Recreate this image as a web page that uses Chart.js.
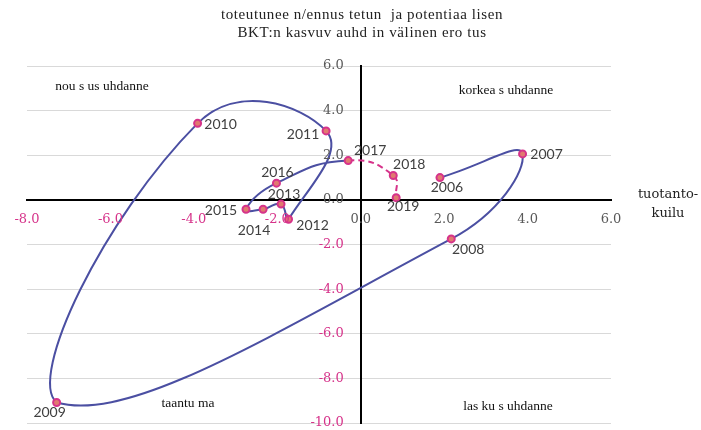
<!DOCTYPE html>
<html>
<head>
<meta charset="utf-8">
<script src="https://cdn.jsdelivr.net/npm/chart.js@4"></script>
<style>
  html, body { margin: 0; padding: 0; background: #fff; }
  #wrap { width: 701px; height: 430px; }
</style>
</head>
<body>
<div id="wrap"><canvas id="gapChart" width="701" height="430"></canvas></div>
<script>
// data
let years = ["2006", "2007", "2008", "2009", "2010", "2011", "2012", "2013", "2014", "2015", "2016", "2017", "2018", "2019"];
let outputGap = [1.90, 3.88, 2.17, -7.29, -3.91, -0.83, -1.73, -1.91, -2.34, -2.75, -2.02, -0.30, 0.78, 0.85];
let growthDiff = [1.00, 2.06, -1.75, -9.08, 3.43, 3.09, -0.87, -0.19, -0.42, -0.42, 0.75, 1.76, 1.09, 0.10];
let forecastFrom = 11; // 2017 -> dashed

let titleLines = ["toteutunee n/ennus tetun  ja potentiaa lisen", "BKT:n kasvuv auhd in välinen ero tus"];
let xTitle = ["tuotanto-", "kuilu"];
let quadrants = ["nou s us uhdanne", "korkea s uhdanne", "taantu ma", "las ku s uhdanne"];

// label offsets for the year texts (px from the point)
let labelOffset = [[7, 10], [24, 1], [17, 11], [-7, 10], [23, 1], [-23, 4], [24, 6], [3, -10], [-9, 21], [-25, 1], [1, -11], [22, -10], [16, -11], [7, 9]];

let blue = "#4b4fa2";
let pink = "#d6338a";
let grey = "#595959";

let points = outputGap.map(function (x, i) { return { x: x, y: growthDiff[i] }; });

let textPlugin = {
    id: "texts",
    afterDraw: function (chart) {
        let ctx = chart.ctx;
        let xs = chart.scales.x;
        let ys = chart.scales.y;
        let x0 = xs.getPixelForValue(0);
        let y0 = ys.getPixelForValue(0);
        ctx.save();
        ctx.textBaseline = "middle";

        // tick labels
        ctx.font = "13px 'DejaVu Serif'";
        ctx.textAlign = "center";
        xs.ticks.forEach(function (t) {
            ctx.fillStyle = t.value < 0 ? pink : grey;
            ctx.fillText(t.value.toFixed(1), xs.getPixelForValue(t.value), y0 + 20);
        });
        ctx.textAlign = "right";
        ys.ticks.forEach(function (t) {
            ctx.fillStyle = t.value < 0 ? pink : grey;
            ctx.fillText(t.value.toFixed(1), x0 - 17, ys.getPixelForValue(t.value));
        });

        // title
        ctx.textAlign = "center";
        ctx.fillStyle = "#222";
        ctx.font = "15px 'Liberation Serif'";
        ctx.letterSpacing = "0.6px";
        ctx.fillText(titleLines[0], 362, 15);
        ctx.fillText(titleLines[1], 362, 33);
        ctx.letterSpacing = "0px";

        // quadrant labels
        ctx.font = "13.5px 'Liberation Serif'";
        ctx.fillStyle = "#111";
        ctx.fillText(quadrants[0], 102, 86);
        ctx.fillText(quadrants[1], 506, 90);
        ctx.fillText(quadrants[2], 188, 403);
        ctx.fillText(quadrants[3], 508, 406);

        // axis title
        ctx.font = "13px 'DejaVu Serif'";
        ctx.fillStyle = "#222";
        ctx.fillText(xTitle[0], 668, 195);
        ctx.fillText(xTitle[1], 668, 214);

        // year labels
        let meta = chart.getDatasetMeta(0);
        ctx.font = "14px Lato";
        ctx.fillStyle = "#404040";
        meta.data.forEach(function (pt, i) {
            ctx.fillText(years[i], pt.x + labelOffset[i][0], pt.y + labelOffset[i][1]);
        });
        ctx.restore();
    }
};

new Chart("gapChart", {
    type: "scatter",
    data: {
        datasets: [{
            data: points,
            showLine: true,
            tension: 0.5,
            borderColor: blue,
            borderWidth: 2,
            pointRadius: 3.5,
            pointBorderWidth: 2,
            pointBorderColor: pink,
            pointBackgroundColor: "#e07a70",
            segment: {
                borderColor: function (c) { return c.p0DataIndex >= forecastFrom ? pink : blue; },
                borderDash: function (c) { return c.p0DataIndex >= forecastFrom ? [6, 4] : undefined; }
            }
        }]
    },
    options: {
        responsive: false,
        animation: false,
        layout: { padding: { left: 27, right: 90, top: 66, bottom: 7 } },
        plugins: {
            legend: { display: false },
            title: { display: false },
            tooltip: { enabled: false }
        },
        scales: {
            x: {
                type: "linear",
                position: { y: 0 },
                min: -8, max: 6,
                grid: { color: "rgba(0,0,0,0)", drawTicks: false },
                border: { display: true, color: "#000", width: 2 },
                ticks: { stepSize: 2, display: false }
            },
            y: {
                type: "linear",
                position: { x: 0 },
                min: -10, max: 6,
                grid: { color: "#d9d9d9", lineWidth: 1, drawTicks: false },
                border: { display: true, color: "#000", width: 2 },
                ticks: { stepSize: 2, display: false }
            }
        }
    },
    plugins: [textPlugin]
});
</script>
</body>
</html>
